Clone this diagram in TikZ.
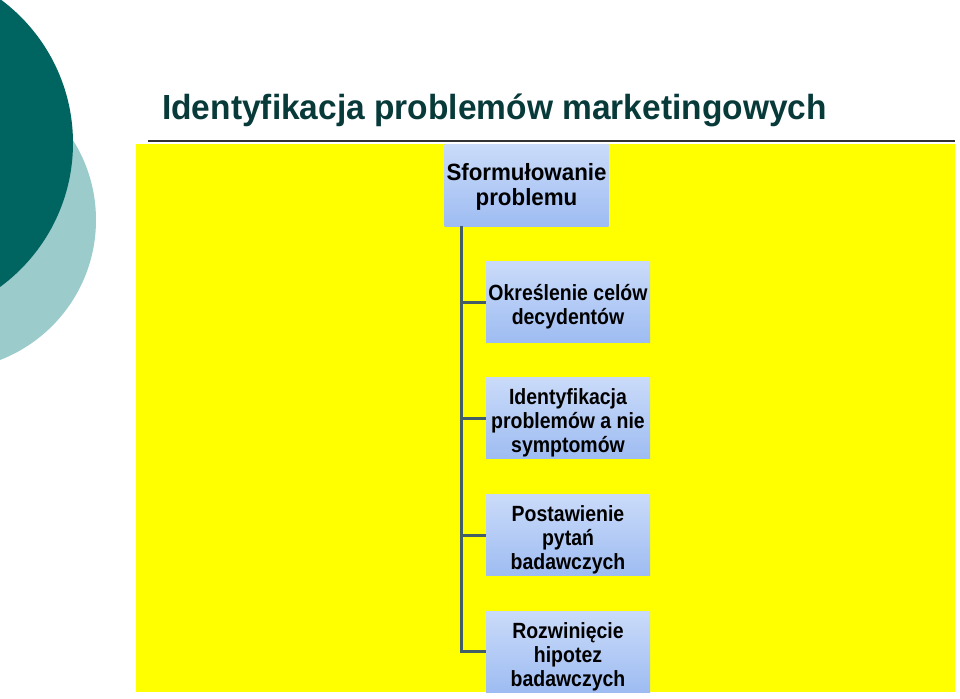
\documentclass[tikz,border=0pt]{standalone}
\usepackage{fontspec}
\setmainfont{Liberation Sans}
\newfontfamily\titlefont[FakeStretch=0.96]{Liberation Sans}
\newfontfamily\rootfont[FakeStretch=0.95]{Liberation Sans}
\newfontfamily\childfont[FakeStretch=0.885]{Liberation Sans}
\definecolor{darkteal}{RGB}{0,100,96}
\definecolor{lightteal}{RGB}{155,203,203}
\definecolor{titlecol}{RGB}{8,58,58}
\definecolor{boxtop}{RGB}{202,219,249}
\definecolor{boxbot}{RGB}{158,188,242}
\definecolor{conncol}{RGB}{68,94,104}
\definecolor{bgyellow}{RGB}{255,255,0}
\newcommand{\boxlines}[1]{\begin{tabular}{@{}c@{}}#1\end{tabular}}
\tikzset{
  box/.style={rectangle, inner sep=0pt, minimum width=164pt, minimum height=81pt,
    top color=boxtop, bottom color=boxbot},
  rootbox/.style={box, minimum height=82pt},
  childtext/.style={inner sep=0pt, text=black, font=\childfont\fontsize{22}{24}\selectfont\bfseries},
  roottext/.style={inner sep=0pt, text=black, font=\rootfont\fontsize{23.5}{25.5}\selectfont\bfseries},
  conn/.style={draw=conncol, line width=3pt}
}
\begin{document}
\begin{tikzpicture}[x=1pt,y=-1pt]
\useasboundingbox (0,0) rectangle (960,698);
\begin{scope}
\clip (0,0) rectangle (960,698);
\fill[lightteal] (-54,220) circle (150);
\fill[darkteal] (-105.5,143) circle (178.5);
\end{scope}
\node[anchor=base west, inner sep=0pt, text=titlecol, font=\titlefont\fontsize{34.9}{40}\selectfont\bfseries] (title) at (162,119.5) {Identyfikacja problemów marketingowych};
\draw[line width=2pt, draw=black!80] (148,141) -- (955,141);
\fill[bgyellow] (136,144) rectangle (955,692);
\node[rootbox] (b1) at (526.5,185) {};
\node[childbox/.style={}, box] (b2) at (568,302) {};
\node[box] (b3) at (568,418) {};
\node[box] (b4) at (568,535) {};
\node[box] (b5) at (568,651.5) {};
\node[roottext] (t1) at ([yshift=-3pt]b1.center) {\boxlines{Sformułowanie\\problemu}};
\node[childtext] (t2) at ([yshift=-5.8pt]b2.center) {\boxlines{Określenie celów\\decydentów}};
\node[childtext] (t3) at ([yshift=-5.8pt]b3.center) {\boxlines{Identyfikacja\\problemów a nie\\symptomów}};
\node[childtext] (t4) at ([yshift=-5.8pt]b4.center) {\boxlines{Postawienie\\pytań\\badawczych}};
\node[childtext] (t5) at ([yshift=-5.8pt]b5.center) {\boxlines{Rozwinięcie\\hipotez\\badawczych}};
\coordinate (trunk) at (461,226);
\draw[conn] (trunk) |- (b2.west);
\draw[conn] (trunk) |- (b3.west);
\draw[conn] (trunk) |- (b4.west);
\draw[conn] (trunk) |- (b5.west);
\end{tikzpicture}
\end{document}
